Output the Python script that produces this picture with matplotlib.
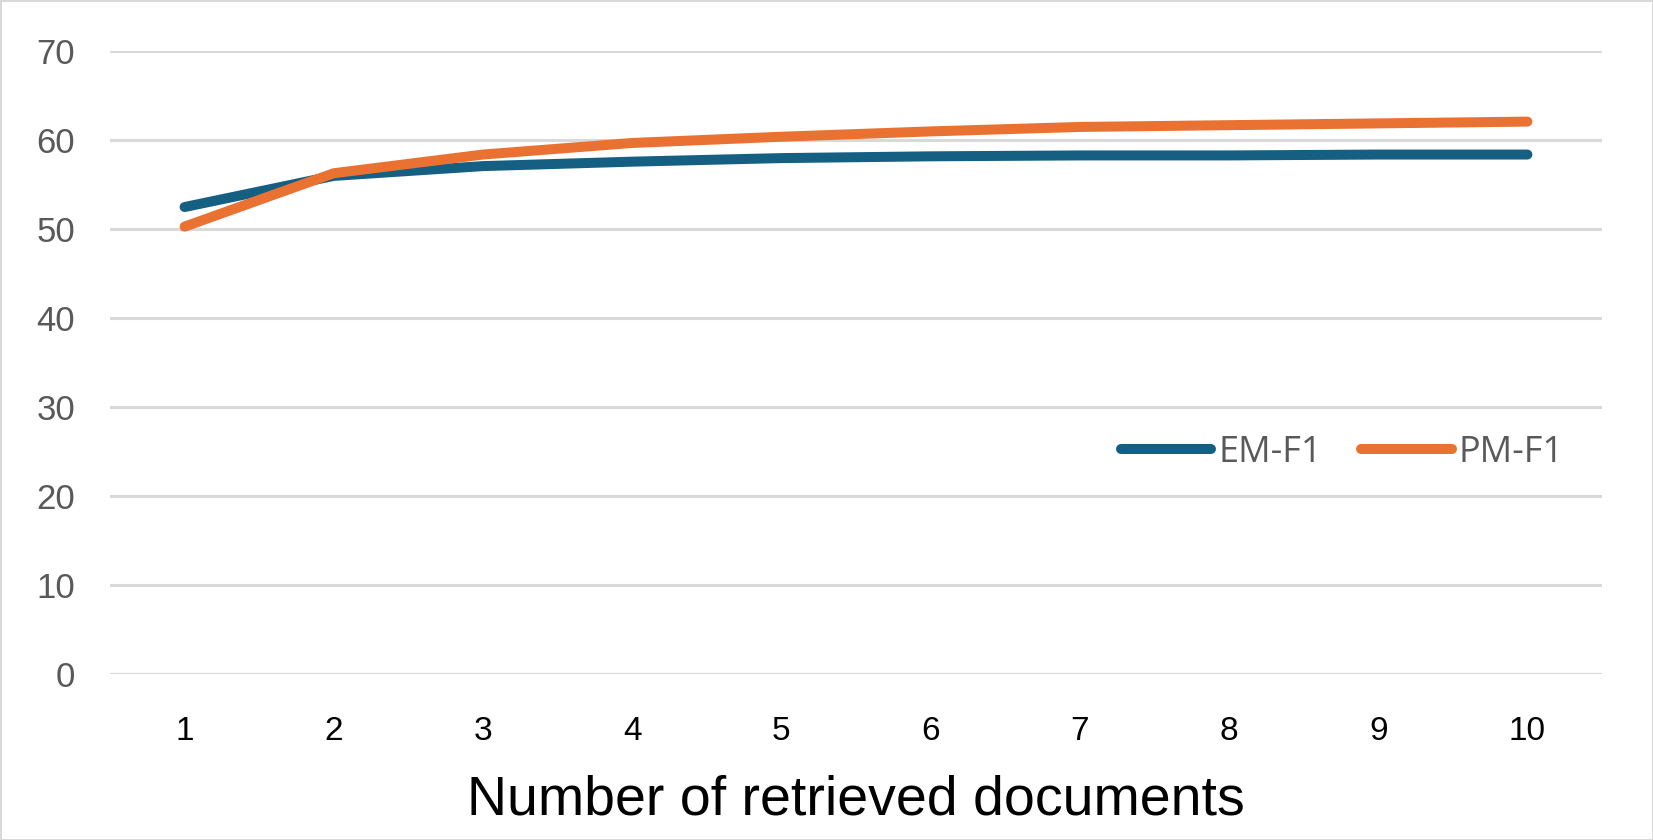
import matplotlib.pyplot as plt
import numpy as np

# Datos
docs = [1, 2, 3, 4, 5, 6, 7, 8, 9, 10]
em_f1 = [52.5, 56.0, 57.1, 57.6, 58.0, 58.2, 58.3, 58.3, 58.4, 58.4]
pm_f1 = [50.3, 56.3, 58.4, 59.7, 60.4, 61.0, 61.5, 61.7, 61.9, 62.1]
yticks = [0, 10, 20, 30, 40, 50, 60, 70]

azul = '#156082'
naranja = '#e97132'
gris = '#595959'

fig = plt.figure(figsize=(16.53, 8.4), dpi=100)
fig.patch.set_edgecolor('#d9d9d9')
fig.patch.set_linewidth(2)
ax = fig.add_axes([110 / 1653, 1 - 674.3 / 840, (1602 - 110) / 1653, (674.3 - 51.3) / 840])

x = np.arange(len(docs))
ax.plot(x, em_f1, color=azul, linewidth=7.2, solid_capstyle='round', solid_joinstyle='round', label='EM-F1')
ax.plot(x, pm_f1, color=naranja, linewidth=7.2, solid_capstyle='round', solid_joinstyle='round', label='PM-F1')

ax.set_xlim(-0.5, len(docs) - 0.5)
ax.set_ylim(0, 70)
ax.set_yticks(yticks)
ax.set_xticks(x)
ax.set_xticklabels([str(d) for d in docs])

for s in ax.spines.values():
    s.set_visible(False)
ax.grid(axis='y', color='#d9d9d9', linewidth=2.2)
ax.set_axisbelow(True)
ax.tick_params(length=0, labelcolor=gris)
ax.tick_params(axis='y', pad=25, labelsize=25)
ax.tick_params(axis='x', pad=30, labelsize=24)
for lab in ax.get_xticklabels() + ax.get_yticklabels():
    lab.set_family('Liberation Sans')
for lab in ax.get_xticklabels():
    lab.set_color('black')

ax.set_xlabel('Number of retrieved documents', fontsize=40, family='Liberation Sans', labelpad=20)

leg = ax.legend(loc='center left', bbox_to_anchor=(1088 / 1653, 1 - 453 / 840), bbox_transform=fig.transFigure,
                ncol=2, frameon=False, handlelength=2.5, handletextpad=0.2, columnspacing=1.1,
                prop={'family': 'Open Sans', 'size': 26})
for t in leg.get_texts():
    t.set_color(gris)

plt.savefig('out.png', dpi=100)
